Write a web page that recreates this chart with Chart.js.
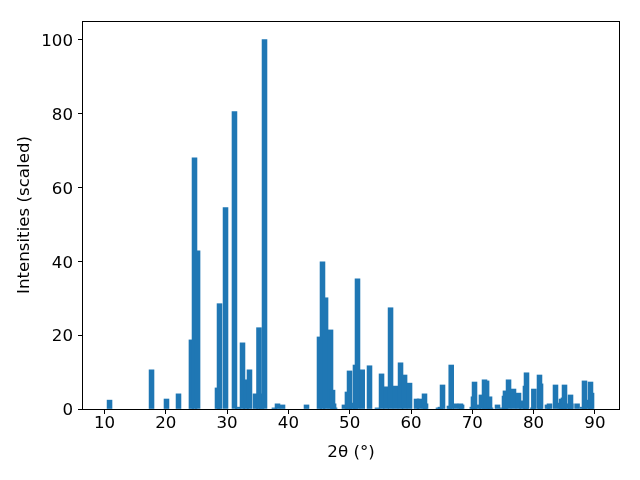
<!DOCTYPE html>
<html>
<head>
<meta charset="utf-8">
<script src="https://cdn.jsdelivr.net/npm/chart.js@4.4.1/dist/chart.umd.min.js"></script>
<style>
  html, body { margin: 0; padding: 0; background: #fff; }
  #wrap { width: 640px; height: 480px; }
</style>
</head>
<body>
<div id="wrap"><canvas id="c" width="640" height="480"></canvas></div>
<script>
// 2-theta peak positions (degrees)
const angles = [10.82, 17.67, 20.11, 22.07, 24.18, 24.68, 25.18, 28.43, 28.76, 29.74,
  31.2, 31.75, 32.51, 33.08, 33.65, 34.63, 35.2, 35.6, 36.1, 37.72,
  38.22, 39.04, 42.95, 45.07, 45.56, 46.06, 46.87, 47.2, 47.37, 47.53,
  49.14, 49.63, 49.97, 50.45, 50.94, 51.27, 52.04, 53.23, 54.53, 55.19,
  55.92, 56.66, 57.47, 58.29, 58.95, 59.76, 60.9, 61.39, 62.2, 62.37,
  64.48, 64.8, 65.14, 66.27, 66.56, 67.26, 68.07, 68.25, 70.0, 70.19,
  70.36, 71.0, 71.49, 71.99, 72.33, 72.81, 72.98, 74.11, 74.92, 75.25,
  75.41, 75.91, 76.72, 77.54, 78.11, 78.67, 78.84, 79.88, 80.04, 80.96,
  81.13, 82.26, 82.59, 83.57, 84.38, 84.55, 84.87, 85.04, 85.54, 86.02,
  86.07, 87.09, 87.98, 88.3, 88.79, 89.28, 89.45];
// scaled intensities
const intensities = [2.4, 10.6, 2.7, 4.1, 18.7, 68.0, 42.8, 5.7, 28.5, 54.5,
  80.5, 0.5, 17.9, 7.9, 10.6, 4.1, 22.0, 4.1, 100, 0.3,
  1.4, 1.1, 1.1, 19.5, 39.8, 30.1, 21.4, 5.1, 1.4, 0.3,
  1.1, 4.6, 10.3, 1.6, 11.9, 35.2, 10.6, 11.7, 0.3, 9.5,
  6.0, 27.4, 6.2, 12.5, 9.2, 7.0, 2.7, 2.7, 4.1, 1.4,
  0.3, 0.5, 6.5, 0.8, 11.9, 1.4, 1.4, 1.1, 0.5, 3.3,
  7.3, 1.1, 3.8, 7.9, 7.6, 3.3, 0.3, 1.1, 0.3, 3.5,
  4.9, 7.9, 5.4, 4.3, 2.2, 6.2, 9.8, 0.3, 5.4, 9.2,
  6.8, 1.1, 1.4, 6.5, 1.6, 2.7, 3.0, 6.5, 1.4, 3.8,
  1.4, 1.4, 0.5, 7.6, 2.4, 7.3, 4.3];
const xTickValues = [10, 20, 30, 40, 50, 60, 70, 80, 90];
const yTickValues = [0, 20, 40, 60, 80, 100];
const xLabel = '2θ (°)';
const yLabel = 'Intensities (scaled)';

const points = angles.map((a, i) => ({ x: a, y: intensities[i] }));
const FONT = 'DejaVu Sans';
const FS = 16.67;

const frame = {
  id: 'frame',
  afterDraw(chart) {
    const { ctx, chartArea: a } = chart;
    ctx.save();
    ctx.strokeStyle = '#000';
    ctx.lineWidth = 1;
    ctx.strokeRect(Math.round(a.left) - 0.5, Math.round(a.top) + 0.5,
      Math.round(a.right - a.left) + 1, Math.round(a.bottom - a.top));
    ctx.restore();
  }
};

new Chart(document.getElementById('c'), {
  type: 'bar',
  data: {
    datasets: [{
      data: points,
      backgroundColor: '#1f77b4',
      borderWidth: 0,
      barThickness: 4.9
    }]
  },
  options: {
    responsive: false,
    animation: false,
    devicePixelRatio: 1,
    layout: { padding: { top: 21, right: 21, left: 0, bottom: 0 } },
    plugins: { legend: { display: false }, tooltip: { enabled: false } },
    scales: {
      x: {
        type: 'linear',
        min: 6.49,
        max: 93.93,
        offset: false,
        afterBuildTicks: s => { s.ticks = xTickValues.map(v => ({ value: v })); },
        afterFit: s => { s.height = 71; },
        grid: { display: true, drawOnChartArea: false, drawTicks: true, tickLength: 5, color: '#000', offset: false },
        border: { display: false },
        ticks: { color: '#000', font: { family: FONT, size: FS }, padding: 0, maxRotation: 0, autoSkip: false },
        title: { display: true, text: xLabel, color: '#000', font: { family: FONT, size: FS }, padding: { top: 0, bottom: 17 } }
      },
      y: {
        min: 0,
        max: 105,
        afterBuildTicks: s => { s.ticks = yTickValues.map(v => ({ value: v })); },
        afterFit: s => { s.width = 83; },
        grid: { display: true, drawOnChartArea: false, drawTicks: true, tickLength: 5, color: '#000' },
        border: { display: false },
        ticks: { color: '#000', font: { family: FONT, size: FS }, padding: 5, labelOffset: 2 },
        title: { display: true, text: yLabel, color: '#000', font: { family: FONT, size: FS }, padding: { top: 15, bottom: 0 } }
      }
    }
  },
  plugins: [frame]
});
</script>
</body>
</html>
